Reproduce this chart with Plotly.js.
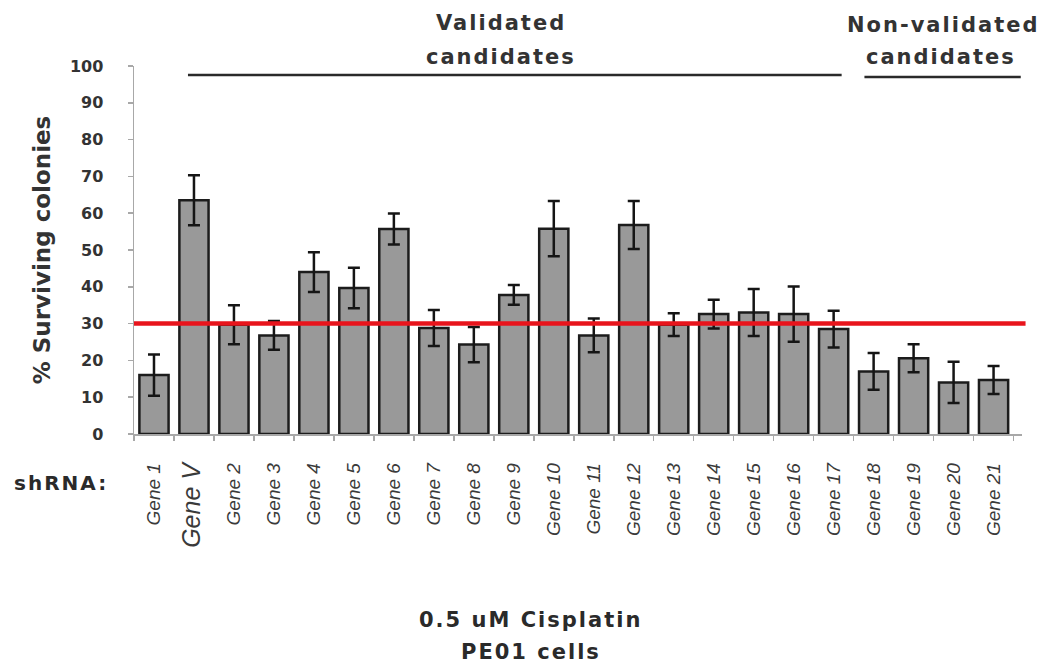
<!DOCTYPE html>
<html>
<head>
<meta charset="utf-8">
<script src="https://cdn.plot.ly/plotly-3.0.1.min.js"></script>
<style>
  body { margin: 0; background: #fff; }
  #chart { width: 1048px; height: 663px; }
  .annotation-text { letter-spacing: 2px; }
</style>
</head>
<body>
<div id="chart"></div>
<script>
// ---- data ----
const genes = ['Gene 1','Gene V','Gene 2','Gene 3','Gene 4','Gene 5','Gene 6','Gene 7','Gene 8','Gene 9','Gene 10',
               'Gene 11','Gene 12','Gene 13','Gene 14','Gene 15','Gene 16','Gene 17','Gene 18','Gene 19','Gene 20','Gene 21'];
const survival = [16, 63.5, 29.7, 26.8, 44, 39.7, 55.7, 28.8, 24.3, 37.8, 55.8,
                  26.8, 56.8, 29.7, 32.6, 33, 32.6, 28.5, 17, 20.6, 14, 14.7];
const sem = [5.6, 6.8, 5.3, 3.9, 5.4, 5.5, 4.2, 4.9, 4.8, 2.7, 7.5,
             4.6, 6.5, 3.1, 3.9, 6.4, 7.5, 5, 5, 3.8, 5.6, 3.8];
const threshold = 30;
const yTicks = [0,10,20,30,40,50,60,70,80,90,100];
const controlGene = 'Gene V';

const tickText = genes.map(g => g === controlGene ? '<span style="font-size:25px">' + g + '</span>' : g);

const trace = {
  type: 'bar',
  x: genes,
  y: survival,
  marker: { color: '#999999', line: { color: '#1c1c1c', width: 2.5 } },
  error_y: { type: 'data', array: sem, visible: true, color: '#151515', thickness: 2.5, width: 6 },
  hoverinfo: 'x+y'
};

const annFont = { family: 'DejaVu Sans', size: 21, color: '#333', weight: 'bold' };
const boldFont = { family: 'DejaVu Sans', size: 20, color: '#2a2a2a', weight: 'bold' };
const titleFont = { family: 'DejaVu Sans', size: 21, color: '#2a2a2a', weight: 'bold' };

const layout = {
  width: 1048, height: 663,
  margin: { l: 134, r: 26, t: 66, b: 229 },
  paper_bgcolor: '#fff', plot_bgcolor: '#fff',
  showlegend: false,
  bargap: 0.27,
  xaxis: {
    type: 'category',
    tickmode: 'array', tickvals: genes, ticktext: tickText,
    tickangle: -90,
    tickfont: { family: 'Liberation Sans', size: 19, color: '#3a3a3a', style: 'italic' },
    ticks: 'outside', tickson: 'boundaries', ticklen: 5, tickcolor: '#a8a8a8', tickwidth: 1.5,
    ticklabelstandoff: 20,
    showline: true, linecolor: '#a8a8a8', linewidth: 1.5,
    showgrid: false, zeroline: false,
    fixedrange: true
  },
  yaxis: {
    range: [0, 100],
    tickmode: 'array', tickvals: yTicks,
    tickfont: { family: 'DejaVu Sans', size: 16, color: '#333', weight: 'bold' },
    ticks: 'outside', ticklen: 5, tickcolor: '#a8a8a8', tickwidth: 1.5,
    ticklabelstandoff: 21,
    showline: true, linecolor: '#a8a8a8', linewidth: 1.5,
    showgrid: false, zeroline: false,
    title: { text: '% Surviving colonies', font: { family: 'DejaVu Sans', size: 23, color: '#333', weight: 'bold' }, standoff: 13 },
    fixedrange: true
  },
  shapes: [
    { type: 'line', xref: 'paper', yref: 'y', x0: 0, x1: 1.004, y0: threshold, y1: threshold,
      line: { color: '#e8141c', width: 4.5 }, layer: 'above' },
    { type: 'line', xref: 'x', yref: 'paper', x0: 0.85, x1: 17.2, y0: 0.9755, y1: 0.9755,
      line: { color: '#2a2a2a', width: 2.5 } },
    { type: 'line', xref: 'x', yref: 'paper', x0: 17.77, x1: 21.68, y0: 0.970, y1: 0.970,
      line: { color: '#2a2a2a', width: 2.5 } }
  ],
  annotations: [
    { text: 'Validated', xref: 'paper', yref: 'paper', x: 0.413, y: 1.117, showarrow: false, font: annFont, xanchor: 'center', yanchor: 'middle' },
    { text: 'candidates', xref: 'paper', yref: 'paper', x: 0.413, y: 1.024, showarrow: false, font: annFont, xanchor: 'center', yanchor: 'middle' },
    { text: 'Non-validated', xref: 'paper', yref: 'paper', x: 0.911, y: 1.111, showarrow: false, font: annFont, xanchor: 'center', yanchor: 'middle' },
    { text: 'candidates', xref: 'paper', yref: 'paper', x: 0.909, y: 1.024, showarrow: false, font: annFont, xanchor: 'center', yanchor: 'middle' },
    { text: 'shRNA:', xref: 'paper', yref: 'paper', x: -0.082, y: -0.133, showarrow: false, font: boldFont, xanchor: 'center', yanchor: 'middle' },
    { text: '0.5 uM Cisplatin', xref: 'paper', yref: 'paper', x: 0.447, y: -0.505, showarrow: false, font: titleFont, xanchor: 'center', yanchor: 'middle' },
    { text: 'PE01 cells', xref: 'paper', yref: 'paper', x: 0.447, y: -0.592, showarrow: false, font: titleFont, xanchor: 'center', yanchor: 'middle' }
  ]
};

Plotly.newPlot('chart', [trace], layout, { displayModeBar: false, staticPlot: true });
</script>
</body>
</html>
